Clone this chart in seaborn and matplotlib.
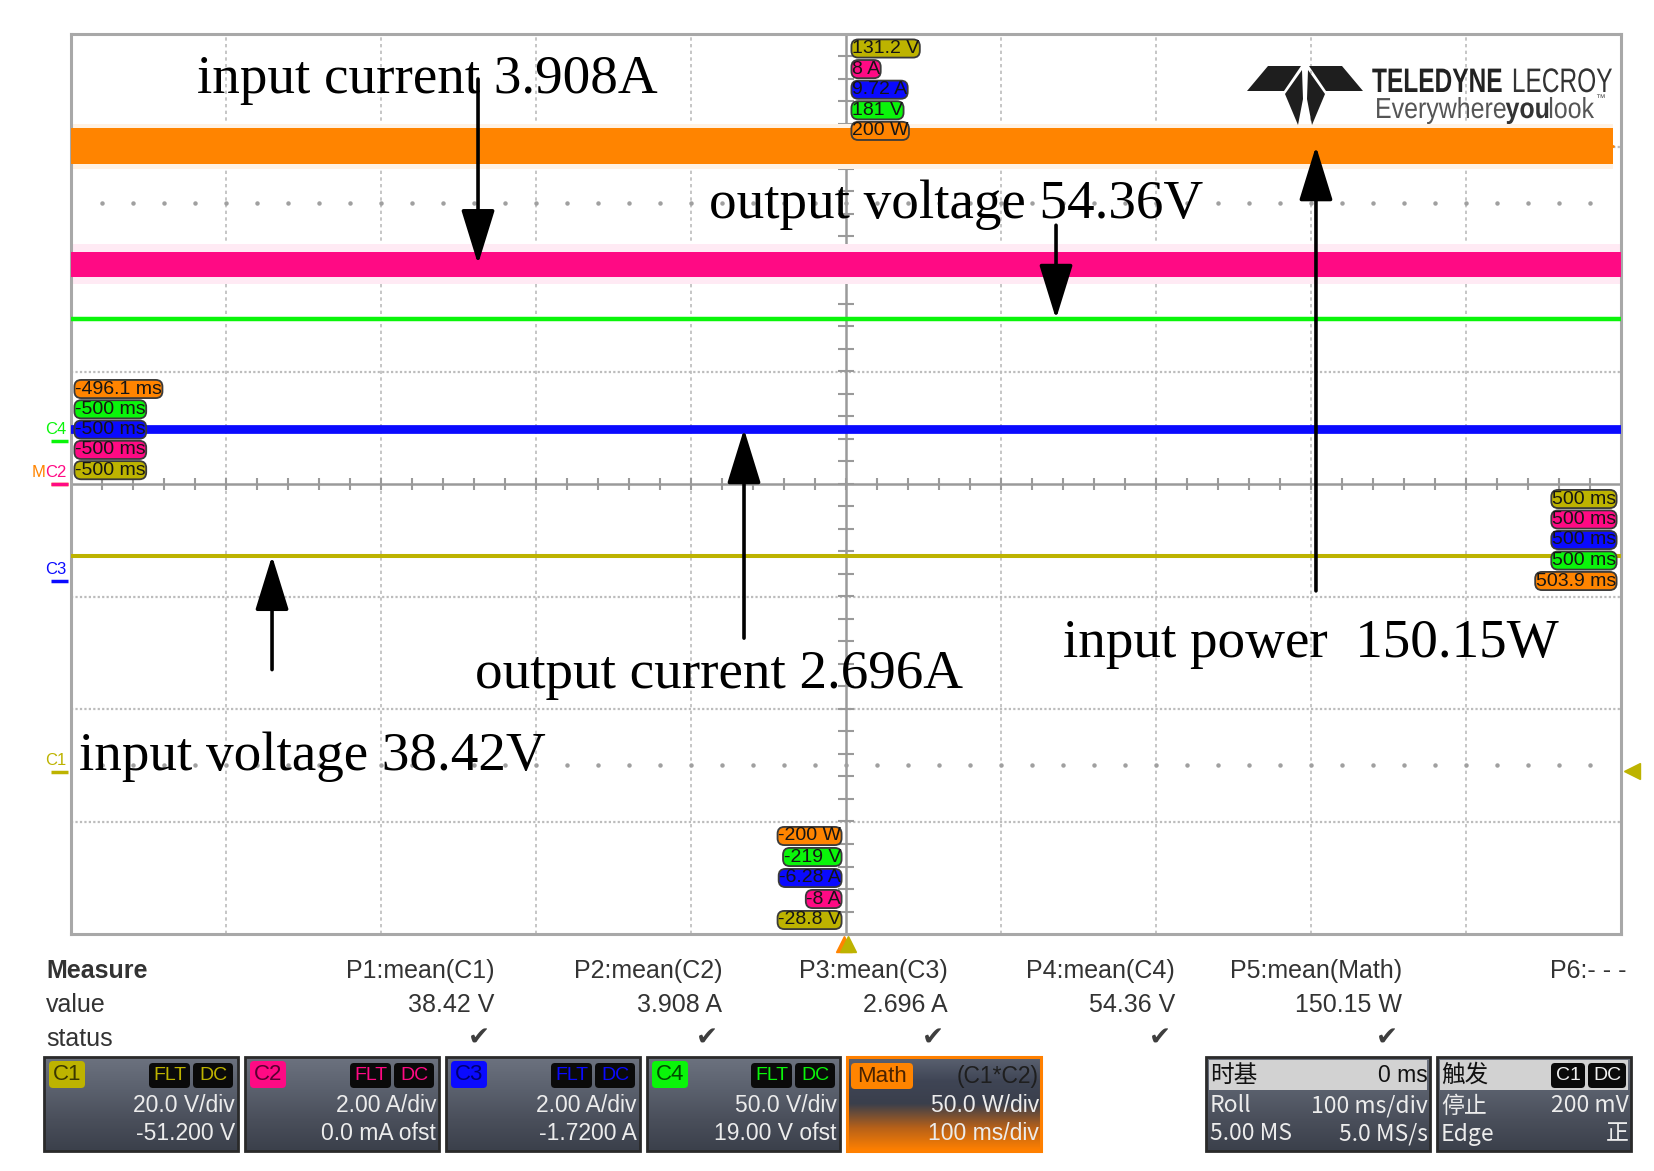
import numpy as np
import pandas as pd
import matplotlib
matplotlib.use("Agg")
import matplotlib.pyplot as plt
from matplotlib.patches import FancyBboxPatch, Polygon, Rectangle, PathPatch
from matplotlib.colors import LinearSegmentedColormap
from matplotlib.textpath import TextPath
from matplotlib.font_manager import FontProperties
from matplotlib.transforms import Affine2D
import seaborn as sns

# ============================================================
# DATA
# ============================================================

channels = ["C1", "C2", "C3", "C4", "Math"]
quantities = ["input voltage", "input current", "output current", "output voltage", "input power"]
means = [38.42, 3.908, 2.696, 54.36, 150.15]
units = ["V", "A", "A", "V", "W"]
per_div = [20.0, 2.0, 2.0, 50.0, 50.0]
offsets = [-51.2, 0.0, -1.72, 19.0, 0.0]
ripple_pp = [0.0, 0.45, 0.0, 0.0, 16.0]      # solid noise band, peak-peak
halo_pp = [0.0, 0.70, 0.0, 0.0, 20.0]        # faint outer noise, peak-peak
trace_start = [-500, -500, -500, -500, -500]
trace_end = [500, 500, 500, 500, 495]
t_left = [-500, -500, -500, -500, -496.1]
t_right = [500, 500, 500, 500, 503.9]
trigger_level = 0.2  # V on C1

settings_row1 = ["20.0 V/div", "2.00 A/div", "2.00 A/div", "50.0 V/div", "50.0 W/div"]
settings_row2 = ["-51.200 V", "0.0 mA ofst", "-1.7200 A", "19.00 V ofst", "100 ms/div"]
timebase = [["时基", "0 ms"], ["Roll", "100 ms/div"], ["5.00 MS", "5.0 MS/s"]]
trigger = [["触发", ""], ["停止", "200 mV"], ["Edge", "正"]]

colors = ["#bdb300", "#ff0a84", "#0a0aff", "#0af50a", "#ff8400"]
halo_colors = ["#ffffff", "#ffeaf4", "#ffffff", "#ffffff", "#fff2e4"]
badge_text = ["#3a3700", "#5a0030", "#000070", "#004a00", "#4a2300"]

# ============================================================
# FIGURE
# ============================================================

sns.set_theme(style="white")
plt.rcParams["font.family"] = ["Liberation Sans", "DejaVu Sans"]

W, H = 1654, 1171
fig = plt.figure(figsize=(W / 100, H / 100), dpi=100)
fig.patch.set_facecolor("white")

ax = fig.add_axes([71 / W, 1 - 934 / H, 1550 / W, 900 / H])
ax.set_xlim(-500, 500)
ax.set_ylim(-4, 4)
ax.set_xticks([])
ax.set_yticks([])
for s in ax.spines.values():
    s.set_color("#a8a8a8")
    s.set_linewidth(2.2)

# grid
grid_c = "#bcbcbc"
for x in range(-400, 500, 100):
    if x != 0:
        ax.axvline(x, color=grid_c, lw=1.2, ls=(0, (2, 2)), zorder=1)
for y in [-3, -2, -1, 1, 2, 3]:
    ax.axhline(y, color=grid_c, lw=1.6, ls=(0, (1, 1)), zorder=1)
ax.axhline(0, color="#9a9a9a", lw=1.8, zorder=1)
ax.axvline(0, color="#9a9a9a", lw=1.8, zorder=1)
tick_t = np.arange(-480, 500, 20)
tick_d = np.arange(-3.8, 4.0, 0.2)
ax.plot(tick_t, np.zeros_like(tick_t), ls="none", marker="|", ms=9, mew=1.5, color="#9a9a9a", zorder=1)
ax.plot(np.zeros_like(tick_d), tick_d, ls="none", marker="_", ms=11, mew=1.5, color="#9a9a9a", zorder=1)
for yy in (2.5, -2.5):
    ax.plot(tick_t, np.full_like(tick_t, yy, dtype=float), ls="none", marker="o", ms=2.2,
            color="#a0a0a0", zorder=1)

# traces
pos = [(m + o) / d for m, o, d in zip(means, offsets, per_div)]
rows = []
for ch, p, t0, t1 in zip(channels, pos, trace_start, trace_end):
    rows.append({"ch": ch, "t": t0, "pos": p})
    rows.append({"ch": ch, "t": t1, "pos": p})
df = pd.DataFrame(rows)

line_w = {"C1": 2.9, "C2": 2.0, "C3": 6.3, "C4": 3.2, "Math": 2.0}
for i, ch in enumerate(channels):
    d = df[df["ch"] == ch]
    if halo_pp[i] > 0:
        hh = halo_pp[i] / per_div[i] / 2
        ax.fill_between(d["t"], d["pos"] - hh, d["pos"] + hh, color=halo_colors[i], lw=0, zorder=2)
    if ripple_pp[i] > 0:
        rr = ripple_pp[i] / per_div[i] / 2
        ax.fill_between(d["t"], d["pos"] - rr, d["pos"] + rr, color=colors[i], lw=0, zorder=3)
    sns.lineplot(data=d, x="t", y="pos", color=colors[i], lw=line_w[ch], ax=ax, zorder=3)
ax.set_xlabel("")
ax.set_ylabel("")

# channel zero-level markers at the left
zero_pos = [o / d for o, d in zip(offsets, per_div)]
for i in [3, 2, 0, 4, 1]:
    ax.plot([-513, -502], [zero_pos[i], zero_pos[i]], color=colors[i], lw=2.5, clip_on=False,
            solid_capstyle="butt", zorder=4)
for i in [3, 2, 0]:
    ax.annotate(channels[i], xy=(-502, zero_pos[i]), xytext=(-1, 3), textcoords="offset points",
                ha="right", va="bottom", fontsize=12, color=colors[i], annotation_clip=False)
c2 = ax.annotate("C2", xy=(-502, zero_pos[1]), xytext=(-1, 3), textcoords="offset points",
                 ha="right", va="bottom", fontsize=12, color=colors[1], annotation_clip=False)
ax.annotate("M", xy=(0, 0), xycoords=c2, ha="right", va="bottom", fontsize=12,
            color=colors[4], annotation_clip=False)

# trigger markers
trig_pos = (trigger_level + offsets[0]) / per_div[0]
ax.plot(507, trig_pos, marker="<", ms=12, color=colors[0], clip_on=False, zorder=4)
ax.plot(-1.5, -4.09, marker="^", ms=12, color=colors[4], clip_on=False, zorder=4)
ax.plot(1.5, -4.09, marker="^", ms=11, color=colors[0], clip_on=False, zorder=4)

# annotations with arrows
ann_x = [-494.8, -418.7, -239.4, -88.4, 140.0]
ann_y = [-2.542, 3.476, -1.813, 2.364, -1.538]
arrow_x = [-370.3, -237.4, -65.8, 135.5, 303.2]
arrow_from = [-1.65, 3.60, -1.37, 2.30, -0.95]
gaps = [" ", " ", " ", " ", "  "]
for i in range(5):
    label = f"{quantities[i]}{gaps[i]}{means[i]:g}{units[i]}"
    ax.text(ann_x[i], ann_y[i], label, family="Liberation Serif", fontsize=39.7,
            color="black", ha="left", va="baseline", zorder=6)
    ax.annotate("", xy=(arrow_x[i], pos[i]), xytext=(arrow_x[i], arrow_from[i]),
                arrowprops=dict(arrowstyle="-|>,head_length=3.4,head_width=1.05",
                                mutation_scale=10, lw=2.6, color="black",
                                shrinkA=0, shrinkB=0), zorder=6)

# ============================================================
# OVERLAY (pixel coordinates): tags, logo, measure panel
# ============================================================

ov = fig.add_axes([0, 0, 1, 1], zorder=5)
ov.patch.set_alpha(0)
ov.axis("off")


def tag(x, y, s, fc, ha):
    ov.text(x, y, s, ha=ha, va="center", fontsize=14, color="#151515",
            bbox=dict(boxstyle="round,pad=0.03,rounding_size=0.35", fc=fc, ec="#3a3a3a", lw=1.3),
            zorder=7)


def fmt(v, u):
    return f"{v:g} {u}"


tops = [fmt(4 * d - o, u) for d, o, u in zip(per_div, offsets, units)]
bottoms = [fmt(-4 * d - o, u) for d, o, u in zip(per_div, offsets, units)]

for k, i in enumerate([0, 1, 2, 3, 4]):
    tag(852, 48.5 + k * 20.6, tops[i], colors[i], "left")
for k, i in enumerate([4, 3, 2, 1, 0]):
    tag(841, 836 + k * 21.0, bottoms[i], colors[i], "right")
for k, i in enumerate([4, 3, 2, 1, 0]):
    tag(75, 389 + k * 20.3, f"{t_left[i]:g} ms", colors[i], "left")
for k, i in enumerate([0, 1, 2, 3, 4]):
    tag(1616, 499 + k * 20.5, f"{t_right[i]:g} ms", colors[i], "right")


# logo
def squeezed(x, y, s, size, sx, weight, color, ha="left"):
    tp = TextPath((0, 0), s, size=size, prop=FontProperties(family="Liberation Sans", weight=weight))
    w = tp.get_extents().x1 * sx
    x0 = x - w if ha == "right" else x
    tr = Affine2D().scale(sx, -1).translate(x0, y) + ov.transData
    ov.add_patch(PathPatch(tp, transform=tr, fc=color, ec="none", zorder=6))
    return x0 + w


logo_c = "#1e1e1e"
cx = 1305
left_wing = [(1268, 66), (1301, 66), (1284, 91), (1247, 91)]
left_leg = [(1302, 70), (1285, 94), (1298, 125), (1303, 99)]
for shape in (left_wing, left_leg):
    ov.add_patch(Polygon(shape, closed=True, fc=logo_c, ec="none", zorder=6))
    ov.add_patch(Polygon([(2 * cx - x, y) for x, y in shape], closed=True, fc=logo_c, ec="none", zorder=6))
squeezed(1372, 92, "TELEDYNE", 34, 0.72, "bold", "#222222")
squeezed(1612, 92, "LECROY", 34, 0.72, "normal", "#333333", ha="right")
xe = squeezed(1375, 118, "Everywhere", 29, 0.86, "normal", "#555555")
xe = squeezed(xe, 118, "you", 29, 0.86, "bold", "#333333")
xe = squeezed(xe, 118, "look", 29, 0.86, "normal", "#555555")
ov.text(xe + 1, 98, "™", fontsize=7, color="#555555", va="center")

# measure table
txt_c = "#333333"
fs = 18
fb = 16.5
ov.text(46, 971, "Measure", fontsize=fs, weight="bold", color=txt_c, va="center")
ov.text(46, 1005, "value", fontsize=fs, color=txt_c, va="center")
ov.text(46, 1039, "status", fontsize=fs, color=txt_c, va="center")
col_right = [494, 722, 948, 1175, 1402]
for i in range(5):
    ov.text(col_right[i], 971, f"P{i + 1}:mean({channels[i]})", fontsize=fs, color=txt_c,
            ha="right", va="center")
    ov.text(col_right[i], 1005, fmt(means[i], units[i]), fontsize=fs, color=txt_c,
            ha="right", va="center")
    ov.text(col_right[i] - 4, 1039, "✔", family="DejaVu Sans", fontsize=19, color="#3e3e3e",
            ha="right", va="center")
ov.text(1627, 971, "P6:- - -", fontsize=fs, color=txt_c, ha="right", va="center")


def grad_box(x0, x1, y0, y1, cols, edge, lw=2.0):
    cmap = LinearSegmentedColormap.from_list("g", cols)
    ov.imshow(np.linspace(0, 1, 64).reshape(-1, 1), cmap=cmap, extent=(x0, x1, y1, y0),
              origin="upper", aspect="auto", interpolation="bilinear", zorder=3)
    ov.add_patch(Rectangle((x0, y0), x1 - x0, y1 - y0, fill=False, ec=edge, lw=lw, zorder=4))


def badge(x0, x1, y0, y1, fc, s, tc, size=15):
    ov.add_patch(FancyBboxPatch((x0, y0), x1 - x0, y1 - y0, boxstyle="round,pad=0,rounding_size=4",
                                fc=fc, ec="none", zorder=5))
    ov.text((x0 + x1) / 2, (y0 + y1) / 2, s, fontsize=size, color=tc, ha="center", va="center", zorder=6)


Y0, Y1 = 1057, 1151
box_x = [(44, 238), (245, 439), (446, 640), (647, 840)]
body = ["#6c727f", "#5b616e", "#4a4f5b", "#3b404b"]
light = "#ececec"
for i, (x0, x1) in enumerate(box_x):
    grad_box(x0, x1, Y0, Y1, body, "#2a2a2a")
    badge(x0 + 5, x0 + 41, 1061, 1088, colors[i], channels[i], badge_text[i], 16)
    badge(x1 - 89, x1 - 48, 1063, 1088, "#0a0a0a", "FLT", colors[i], 14)
    badge(x1 - 45, x1 - 5, 1063, 1088, "#0a0a0a", "DC", colors[i], 14)
    ov.text(x1 - 3, 1106, settings_row1[i], fontsize=fb, color=light, ha="right", va="center", zorder=6)
    ov.text(x1 - 3, 1134, settings_row2[i], fontsize=fb, color=light, ha="right", va="center", zorder=6)

# math box
grad_box(847, 1041, Y0, Y1, ["#5a6170", "#3f4555", "#3a3f4c", "#b4601a", "#ff8000"], "#ff8000", 2.2)
badge(851, 913, 1063, 1089, colors[4], "Math", badge_text[4], 16)
ov.text(1039, 1076, "(C1*C2)", fontsize=fb, color="#1e1e1e", ha="right", va="center", zorder=6)
ov.text(1039, 1106, settings_row1[4], fontsize=fb, color=light, ha="right", va="center", zorder=6)
ov.text(1039, 1134, settings_row2[4], fontsize=fb, color=light, ha="right", va="center", zorder=6)

# timebase and trigger boxes
cjk = ["Noto Sans CJK SC", "DejaVu Sans"]
for (x0, x1), rows_ in [((1206, 1430), timebase), ((1437, 1631), trigger)]:
    grad_box(x0, x1, Y0, Y1, body, "#2a2a2a")
    ov.add_patch(Rectangle((x0 + 3, 1060), x1 - x0 - 6, 30, fc="#d2d2d2", ec="none", zorder=4))
    ov.text(x0 + 4, 1075, rows_[0][0], family=cjk, fontsize=17, color="#111111", va="center", zorder=6)
    if rows_[0][1]:
        ov.text(x1 - 2, 1075, rows_[0][1], fontsize=fb, color="#111111", ha="right", va="center", zorder=6)
    for r, yy in zip(rows_[1:], (1106, 1134)):
        ov.text(x0 + 4, yy, r[0], family=cjk, fontsize=fb, color=light, va="center", zorder=6)
        ov.text(x1 - 2, yy, r[1], family=cjk, fontsize=fb, color=light, ha="right", va="center", zorder=6)
badge(1551, 1585, 1063, 1088, "#0a0a0a", "C1", "#f0f0f0", 14)
badge(1588, 1626, 1063, 1088, "#0a0a0a", "DC", "#f0f0f0", 14)

ov.set_xlim(0, W)
ov.set_ylim(H, 0)

fig.savefig("out.png", dpi=100)
